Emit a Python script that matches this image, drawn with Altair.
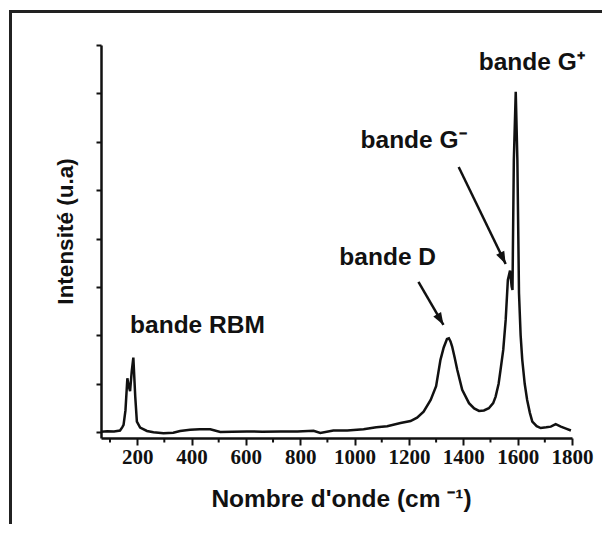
import altair as alt
import pandas as pd

# Raman spectrum
wavenumber = [67, 90, 115, 137, 145, 150, 157, 164, 169, 174, 180, 186, 193, 199, 211,
              236, 260, 297, 333, 358, 395, 430, 469, 506, 550, 604, 660, 727, 790,
              849, 874, 922, 973, 1033, 1080, 1120, 1169, 1206, 1230, 1254, 1280,
              1300, 1316, 1328, 1340, 1347, 1353, 1359, 1368, 1378, 1396, 1421, 1440,
              1458, 1476, 1494, 1510, 1519, 1530, 1537, 1547, 1556, 1564, 1572, 1578,
              1581, 1586, 1593, 1599, 1605, 1611, 1617, 1626, 1635, 1645, 1654, 1670,
              1685, 1705, 1722, 1740, 1759, 1778, 1796]
intensity = [0.02, 0.04, 0.03, 0.07, 0.2, 0.3, 0.9, 2.23, 1.9, 1.7, 2.5, 3.08, 1.47, 0.44, 0.19,
             0.05, 0.0, -0.04, -0.02, 0.05, 0.1, 0.12, 0.12, 0.01, 0.02, 0.03, 0.02, 0.03, 0.03,
             0.06, -0.03, 0.07, 0.07, 0.12, 0.2, 0.25, 0.38, 0.46, 0.6, 0.85, 1.33,
             1.9, 2.99, 3.5, 3.85, 3.88, 3.75, 3.54, 3.1, 2.57, 1.75, 1.2, 0.98,
             0.88, 0.9, 0.99, 1.2, 1.47, 2.0, 2.57, 3.4, 4.64, 6.29, 6.68, 6.02,
             5.88, 11.25, 14.07, 11.25, 5.74, 4.0, 2.99, 2.0, 1.33, 0.8, 0.44, 0.25,
             0.17, 0.2, 0.23, 0.33, 0.23, 0.15, 0.07]

x_major = list(range(200, 1900, 200))
x_minor = list(range(100, 1800, 200))
y_ticks = list(range(0, 17))

# annotations
label_text = ["bande RBM", "bande D", "bande G\u207b", "bande G\u207a"]
label_x = [174, 944, 1022, 1457]
label_y = [4.10, 6.91, 11.74, 14.97]

# arrows (start -> tip)
arrow_x = [1235, 1383]
arrow_y = [6.21, 10.96]
arrow_x2 = [1327, 1556]
arrow_y2 = [4.43, 6.95]
arrow_angle = [150, 154]

FONT = "Liberation Sans, Arial, sans-serif"
TICKFONT = "Liberation Sans Narrow"
INK = "#111111"
X_TITLE = "Nombre d'onde (cm \u207b\u00b9)"
Y_TITLE = "Intensité (u.a)"

spec = pd.DataFrame({"wavenumber": wavenumber, "intensity": intensity})
ann = pd.DataFrame({"wavenumber": label_x, "intensity": label_y, "label": label_text})
arr = pd.DataFrame({"wavenumber": arrow_x, "intensity": arrow_y,
                    "wavenumber2": arrow_x2, "intensity2": arrow_y2, "angle": arrow_angle})
minor_df = pd.DataFrame({"wavenumber": x_minor})

xscale = alt.Scale(domain=[67, 1800], nice=False, zero=False)
yscale = alt.Scale(domain=[-0.24, 16], nice=False, zero=False)

xaxis = alt.Axis(
    values=x_major, tickSize=7, format="d",
    tickWidth=2, tickColor=INK, domainColor=INK, domainWidth=2.5,
    labelFont=TICKFONT, labelFontSize=21, labelFontWeight="bold", labelColor=INK,
    labelPadding=1, labelFlush=False, grid=False,
    titleFont=FONT, titleFontSize=24.5, titleFontWeight="bold", titleColor=INK,
    titleX=240, titleY=68, titleBaseline="alphabetic",
)
yaxis = alt.Axis(
    values=y_ticks, labels=False,
    tickSize={"condition": {"test": "datum.value % 2 == 0", "value": 5}, "value": 3},
    tickWidth=2, tickColor=INK, domainColor=INK, domainWidth=2.5, grid=False,
    titleFont=FONT, titleFontSize=22.5, titleFontWeight="bold", titleColor=INK,
    titleX=-29, titleY=186, titleBaseline="alphabetic",
)

line = alt.Chart(spec).mark_line(color=INK, strokeWidth=2.5).encode(
    x=alt.X("wavenumber:Q", scale=xscale, axis=xaxis, title=X_TITLE),
    y=alt.Y("intensity:Q", scale=yscale, axis=yaxis, title=Y_TITLE),
)

# minor ticks of the x axis (odd hundreds), drawn below the axis line
minor = alt.Chart(minor_df).mark_rule(color=INK, strokeWidth=2).encode(
    x=alt.X("wavenumber:Q", title=X_TITLE),
    y=alt.value(393),
    y2=alt.value(397.5),
)

texts = alt.Chart(ann).mark_text(align="left", baseline="alphabetic", font=FONT,
                                 fontSize=24.5, fontWeight="bold", color=INK).encode(
    x=alt.X("wavenumber:Q", title=X_TITLE),
    y=alt.Y("intensity:Q", title=Y_TITLE),
    text="label:N",
)

shafts = alt.Chart(arr).mark_rule(color=INK, strokeWidth=2.5).encode(
    x=alt.X("wavenumber:Q", title=X_TITLE),
    y=alt.Y("intensity:Q", title=Y_TITLE),
    x2="wavenumber2:Q",
    y2="intensity2:Q",
)

heads = alt.Chart(arr).mark_point(
    shape="M0,0 L-0.45,1.25 L0.45,1.25 Z", filled=True, size=400,
    color=INK, opacity=1, strokeWidth=0,
).encode(
    x=alt.X("wavenumber2:Q", title=X_TITLE),
    y=alt.Y("intensity2:Q", title=Y_TITLE),
    angle=alt.Angle("angle:Q", scale=None),
)

frame_top = alt.Chart(spec).mark_rule(color="#222222", strokeWidth=2.5).encode(
    x=alt.value(-91), x2=alt.value(510), y=alt.value(-33.5)
)
frame_left = alt.Chart(spec).mark_rule(color="#222222", strokeWidth=2.5).encode(
    x=alt.value(-90.5), y=alt.value(-34.5), y2=alt.value(495)
)

chart = alt.layer(frame_top, frame_left, line, minor, shafts, heads, texts).properties(
    width=471, height=393,
    autosize=alt.AutoSizeParams(type="none"),
    padding={"left": 93, "top": 37, "right": 30, "bottom": 86},
    background="white",
).configure_view(stroke="transparent")

chart.save("out.html", embed_options={"renderer": "svg", "actions": False})
